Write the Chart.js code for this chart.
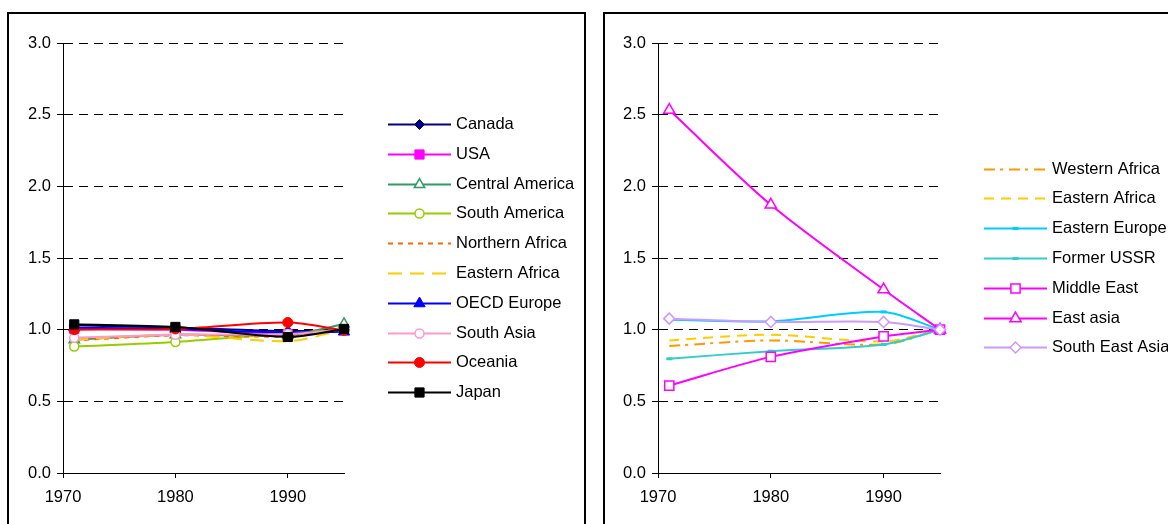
<!DOCTYPE html>
<html>
<head>
<meta charset="utf-8">
<title>Index trends 1971-1995</title>
<script src="https://cdn.jsdelivr.net/npm/chart.js@4/dist/chart.umd.min.js"></script>
<style>
  html, body { margin: 0; padding: 0; background: #fff; width: 1168px; height: 524px; overflow: hidden; position: relative; }
  .frame { position: absolute; top: 12px; height: 560px; border: 2px solid #000; box-sizing: border-box; }
  #f1 { left: 7px; width: 579px; }
  #f2 { left: 603px; width: 620px; }
  canvas { position: absolute; top: 0; }
  #c1 { left: 0; width: 594px; height: 524px; }
  #c2 { left: 594px; width: 574px; height: 524px; }
</style>
</head>
<body>
<div class="frame" id="f1"></div>
<div class="frame" id="f2"></div>
<canvas id="c1" width="594" height="524"></canvas>
<canvas id="c2" width="574" height="524"></canvas>
<script>
// Sample years and axis ticks
const years = [1971, 1980, 1990, 1995];
const xTicks = [1970, 1980, 1990];
const yTicks = [0, 0.5, 1, 1.5, 2, 2.5, 3];

// Left panel series
const canada         = [1.030, 1.015, 0.990, 1.000];
const usa            = [1.005, 1.000, 0.970, 1.000];
const centralAmerica = [0.930, 0.965, 0.960, 1.040];
const southAmerica   = [0.883, 0.914, 0.975, 1.000];
const northernAfrica = [0.925, 0.960, 0.953, 1.000];
const easternAfricaL = [0.930, 0.965, 0.920, 1.000];
const oecdEurope     = [1.014, 1.005, 0.980, 0.985];
const southAsia      = [0.944, 0.965, 0.970, 1.000];
const oceania        = [1.000, 1.005, 1.050, 0.995];
const japan          = [1.037, 1.019, 0.949, 1.005];

// Right panel series
const westernAfrica  = [0.886, 0.925, 0.897, 1.000];
const easternAfricaR = [0.925, 0.965, 0.918, 1.000];
const easternEurope  = [1.070, 1.058, 1.124, 1.000];
const formerUSSR     = [0.797, 0.850, 0.897, 1.000];
const middleEast     = [0.610, 0.810, 0.953, 1.000];
const eastAsia       = [2.532, 1.871, 1.280, 1.000];
const southEastAsia  = [1.077, 1.054, 1.054, 1.000];

const FONT = "'Liberation Sans', Arial, sans-serif";
const FONT_SIZE = 16.5;

function pts(values) {
  return years.map((x, i) => ({ x: x, y: values[i] }));
}

function series(label, values, color, opts) {
  const o = opts || {};
  return {
    label: label,
    data: pts(values),
    borderColor: color,
    borderWidth: o.width || 2,
    borderDash: o.dash || [],
    pointStyle: o.style || false,
    pointRadius: o.style ? (o.radius || 5) : 0,
    pointBackgroundColor: o.open ? '#ffffff' : color,
    pointBorderColor: color,
    pointBorderWidth: o.pbw || (o.open ? 1.5 : 1),
    tension: 0.3,
    fill: false,
    clip: false
  };
}

// Draws the legend to the right of the plot area: line sample, marker, label
const sideLegend = {
  id: 'sideLegend',
  afterDraw(chart) {
    const ctx = chart.ctx;
    const area = chart.chartArea;
    const sets = chart.data.datasets;
    const n = sets.length;
    const rowGap = 29.8;
    const cy = (area.top + area.bottom) / 2;
    const x0 = area.right + 44;
    const len = 63;
    ctx.save();
    sets.forEach((ds, i) => {
      const y = Math.round(cy + (i - (n - 1) / 2) * rowGap) + 0.5;
      ctx.beginPath();
      ctx.setLineDash(ds.borderDash || []);
      ctx.strokeStyle = ds.borderColor;
      ctx.lineWidth = ds.borderWidth;
      ctx.moveTo(x0, y);
      ctx.lineTo(x0 + len, y);
      ctx.stroke();
      ctx.setLineDash([]);
      if (ds.pointStyle && Chart.helpers && Chart.helpers.drawPoint) {
        ctx.fillStyle = ds.pointBackgroundColor;
        ctx.strokeStyle = ds.pointBorderColor;
        ctx.lineWidth = ds.pointBorderWidth;
        Chart.helpers.drawPoint(ctx, {
          pointStyle: ds.pointStyle,
          rotation: 0,
          radius: ds.pointRadius,
          borderWidth: ds.pointBorderWidth
        }, x0 + len / 2, y);
      }
      ctx.fillStyle = '#000';
      ctx.font = FONT_SIZE + 'px ' + FONT;
      ctx.textAlign = 'left';
      ctx.textBaseline = 'middle';
      ctx.fillText(ds.label, x0 + len + 5, y);
    });
    ctx.restore();
  }
};

function makeChart(canvasId, datasets, yAxisWidth, padRight) {
  const n = datasets.length;
  // later series are painted on top
  datasets.forEach((ds, i) => { ds.order = n - 1 - i; });
  return new Chart(document.getElementById(canvasId), {
    type: 'line',
    data: { datasets: datasets },
    plugins: [sideLegend],
    options: {
      responsive: false,
      animation: false,
      events: [],
      layout: { padding: { left: 0, top: 43, right: padRight, bottom: 0 } },
      plugins: { legend: { display: false }, tooltip: { enabled: false } },
      scales: {
        x: {
          type: 'linear',
          min: 1970,
          max: 1995,
          afterBuildTicks: s => { s.ticks = xTicks.map(v => ({ value: v })); },
          afterFit: s => { s.height = 51; },
          grid: { drawOnChartArea: false, drawTicks: true, tickLength: 5, color: '#000', tickColor: '#000' },
          border: { display: true, color: '#000', width: 1 },
          ticks: {
            color: '#000',
            font: { family: FONT, size: FONT_SIZE },
            padding: 10,
            maxRotation: 0,
            autoSkip: false,
            callback: v => String(v)
          }
        },
        y: {
          min: 0,
          max: 3,
          afterBuildTicks: s => { s.ticks = yTicks.map(v => ({ value: v })); },
          afterFit: s => { s.width = yAxisWidth; },
          grid: {
            color: c => (c.tick && c.tick.value === 0) ? 'rgba(0,0,0,0)' : '#000',
            tickColor: '#000',
            tickLength: 6,
            tickBorderDash: [],
            lineWidth: 1
          },
          border: { display: true, color: '#000', width: 1, dash: [9, 6] },
          ticks: {
            color: '#000',
            font: { family: FONT, size: FONT_SIZE },
            padding: 6,
            callback: v => Number(v).toFixed(1)
          }
        }
      }
    }
  });
}

makeChart('c1', [
  series('Canada', canada, '#000080', { style: 'rectRot', radius: 5 }),
  series('USA', usa, '#FF00FF', { style: 'rect', radius: 6.5 }),
  series('Central America', centralAmerica, '#339966', { style: 'triangle', radius: 6, open: true }),
  series('South America', southAmerica, '#99CC00', { style: 'circle', radius: 4.5, open: true }),
  series('Northern Africa', northernAfrica, '#FF6600', { dash: [5, 5] }),
  series('Eastern Africa', easternAfricaL, '#FFCC00', { dash: [14, 8] }),
  series('OECD Europe', oecdEurope, '#0000FF', { style: 'triangle', radius: 6.5 }),
  series('South Asia', southAsia, '#FF99CC', { style: 'circle', radius: 4.5, open: true }),
  series('Oceania', oceania, '#FF0000', { style: 'circle', radius: 5 }),
  series('Japan', japan, '#000000', { style: 'rect', radius: 6.5 })
], 63, 250);

makeChart('c2', [
  series('Western Africa', westernAfrica, '#FF9900', { dash: [11, 5, 3, 6] }),
  series('Eastern Africa', easternAfricaR, '#FFCC00', { dash: [10, 7] }),
  series('Eastern Europe', easternEurope, '#00CCFF', { style: 'line', radius: 3, pbw: 3 }),
  series('Former USSR', formerUSSR, '#33CCCC', { style: 'line', radius: 3, pbw: 3 }),
  series('Middle East', middleEast, '#FF00FF', { style: 'rect', radius: 6.5, open: true }),
  series('East asia', eastAsia, '#FF00FF', { style: 'triangle', radius: 6.5, open: true }),
  series('South East Asia', southEastAsia, '#CC99FF', { style: 'rectRot', radius: 5.5, open: true })
], 64, 228);
</script>
</body>
</html>
